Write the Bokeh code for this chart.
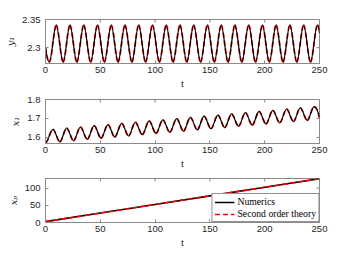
from bokeh.plotting import figure
from bokeh.layouts import column
from bokeh.models import Range1d, ColumnDataSource, Legend, LegendItem
from bokeh.embed import file_html
from bokeh.resources import INLINE

# ---------------- data ----------------
x_ticks = [0, 50, 100, 150, 200, 250]

# panel 1 : y1(t), extrema of the oscillation
y1_start = (0.0, 2.301)
y1_end = (250.0, 2.326)
y1_peak_t = [9.8, 22.3, 34.9, 47.4, 60.0, 72.5, 85.0, 97.6, 110.1, 122.7,
             135.2, 147.7, 160.3, 172.8, 185.4, 197.9, 210.4, 223.0, 235.5, 248.1]
y1_peak_v = [2.340] * 20
y1_trough_t = [3.5, 16.1, 28.6, 41.2, 53.7, 66.2, 78.8, 91.3, 103.9, 116.4,
               128.9, 141.5, 154.0, 166.6, 179.1, 191.6, 204.2, 216.7, 229.3, 241.8]
y1_trough_v = [2.2745] * 20
y1_ticks = [2.3, 2.35]

# panel 2 : x1(t)
x1_start = (0.0, 1.572)
x1_end = (250.0, 1.705)
x1_peak_t = [6.8, 19.3, 31.9, 44.4, 57.0, 69.5, 82.0, 94.6, 107.1, 119.7,
             132.2, 144.7, 157.3, 169.8, 182.4, 194.9, 207.4, 220.0, 232.5, 245.1]
x1_peak_v = [1.643, 1.649, 1.655, 1.662, 1.668, 1.674, 1.680, 1.687, 1.693, 1.699,
             1.706, 1.712, 1.718, 1.724, 1.731, 1.737, 1.743, 1.750, 1.756, 1.762]
x1_trough_t = [13.1, 25.6, 38.1, 50.7, 63.2, 75.8, 88.3, 100.8, 113.4, 125.9,
               138.5, 151.0, 163.5, 176.1, 188.6, 201.2, 213.7, 226.2, 238.8]
x1_trough_v = [1.577, 1.583, 1.590, 1.596, 1.602, 1.608, 1.615, 1.621, 1.627, 1.633,
               1.640, 1.646, 1.652, 1.659, 1.665, 1.671, 1.677, 1.684, 1.690]
x1_ticks = [1.6, 1.7, 1.8]

# panel 3 : xp(t)
xp_t = [0, 50, 100, 150, 200, 250]
xp_num = [2.5, 27.5, 52.5, 77.5, 102.5, 127.5]
xp_theory = [2.5, 27.5, 52.5, 77.5, 102.5, 127.5]
xp_ticks = [0, 50, 100]

labels = ["Numerics", "Second order theory"]

# ---------------- helpers ----------------
AX = "#8a8a8a"
TXT = "#262626"
FW, FH = 274, 44
T0, T1 = 0, 250


def key_points(start, pt, pv, tt, tv, end):
    pts = [start] + list(zip(pt, pv)) + list(zip(tt, tv)) + [end]
    pts.sort()
    return [p[0] for p in pts], [p[1] for p in pts]


def bezier_source(t, v, flat_start, flat_end):
    n = len(t)
    m = [0.0] * n
    if not flat_start:
        m[0] = 2.0 * (v[1] - v[0]) / (t[1] - t[0])
    if not flat_end:
        m[-1] = 2.0 * (v[-1] - v[-2]) / (t[-1] - t[-2])
    d = dict(x0=[], y0=[], x1=[], y1=[], cx0=[], cy0=[], cx1=[], cy1=[])
    for i in range(n - 1):
        h = t[i + 1] - t[i]
        d["x0"].append(t[i]); d["y0"].append(v[i])
        d["x1"].append(t[i + 1]); d["y1"].append(v[i + 1])
        d["cx0"].append(t[i] + h / 3); d["cy0"].append(v[i] + m[i] * h / 3)
        d["cx1"].append(t[i + 1] - h / 3); d["cy1"].append(v[i + 1] - m[i + 1] * h / 3)
    return ColumnDataSource(d)


def make_fig(y0, y1, yticks, ylabel, top, bottom):
    p = figure(frame_width=FW, frame_height=FH,
               x_range=Range1d(T0, T1), y_range=Range1d(y0, y1),
               output_backend="svg", toolbar_location=None,
               min_border_left=45, min_border_right=10,
               min_border_top=top, min_border_bottom=bottom,
               background_fill_color="white", border_fill_color="white")
    p.grid.visible = False
    p.outline_line_color = AX
    p.outline_line_width = 1
    for ax in (p.xaxis[0], p.yaxis[0]):
        ax.axis_line_color = AX
        ax.major_tick_line_color = AX
        ax.major_tick_in = 3
        ax.major_tick_out = 0
        ax.minor_tick_line_color = None
        ax.major_label_text_font = "Liberation Sans"
        ax.major_label_text_font_size = "9.5px"
        ax.major_label_text_color = TXT
        ax.axis_label_text_color = TXT
    p.xaxis.ticker = x_ticks
    p.yaxis.ticker = yticks
    p.xaxis.major_label_standoff = 3
    p.yaxis.major_label_standoff = 5
    p.xaxis.axis_label = "t"
    p.xaxis.axis_label_text_font = "Liberation Serif"
    p.xaxis.axis_label_text_font_style = "normal"
    p.xaxis.axis_label_text_font_size = "11px"
    p.xaxis.axis_label_standoff = 1
    p.yaxis.axis_label = ylabel
    p.yaxis.axis_label_text_font = "DejaVu Serif"
    p.yaxis.axis_label_text_font_style = "italic"
    p.yaxis.axis_label_text_font_size = "10px"
    p.yaxis.axis_label_standoff = 3
    # mirrored inward ticks on the top and right edges of the box
    dy = 3.0 / FH * (y1 - y0)
    dx = 3.0 / FW * (T1 - T0)
    p.segment(x0=x_ticks, y0=[y1] * len(x_ticks), x1=x_ticks, y1=[y1 - dy] * len(x_ticks),
              line_color=AX, line_width=1)
    p.segment(x0=[T1] * len(yticks), y0=yticks, x1=[T1 - dx] * len(yticks), y1=yticks,
              line_color=AX, line_width=1)
    return p


def draw_osc(p, src):
    kw = dict(x0="x0", y0="y0", x1="x1", y1="y1", cx0="cx0", cy0="cy0", cx1="cx1", cy1="cy1",
              source=src)
    p.bezier(line_color="red", line_width=1.8, line_dash="5 3", **kw)
    p.bezier(line_color="black", line_width=1.2, **kw)


# ---------------- panel 1 ----------------
p1 = make_fig(2.272, 2.35, y1_ticks, "y\u2081", 19, 30)
t1, v1 = key_points(y1_start, y1_peak_t, y1_peak_v, y1_trough_t, y1_trough_v, y1_end)
draw_osc(p1, bezier_source(t1, v1, False, False))

# ---------------- panel 2 ----------------
p2 = make_fig(1.568, 1.8, x1_ticks, "x\u2081", 6, 30)
t2, v2 = key_points(x1_start, x1_peak_t, x1_peak_v, x1_trough_t, x1_trough_v, x1_end)
draw_osc(p2, bezier_source(t2, v2, True, False))

# ---------------- panel 3 ----------------
p3 = make_fig(0, 128, xp_ticks, "x\u209a", 5, 30)
r_num = p3.line(xp_t, xp_num, line_color="black", line_width=1.6)
r_th = p3.line(xp_t, xp_theory, line_color="red", line_width=1.6, line_dash="5 3")
legend = Legend(items=[LegendItem(label=labels[0], renderers=[r_num]),
                       LegendItem(label=labels[1], renderers=[r_th])],
                location="bottom_right", orientation="vertical",
                label_text_font="Liberation Serif", label_text_font_size="9.7px",
                label_text_color="black",
                glyph_width=20, glyph_height=10, label_height=10, label_standoff=3,
                padding=2, spacing=1, margin=0,
                border_line_color=TXT, border_line_width=0.8,
                background_fill_color="white", background_fill_alpha=1)
p3.add_layout(legend)

layout = column(p1, p2, p3, spacing=0)
open("out.html", "w").write(file_html(layout, INLINE))
